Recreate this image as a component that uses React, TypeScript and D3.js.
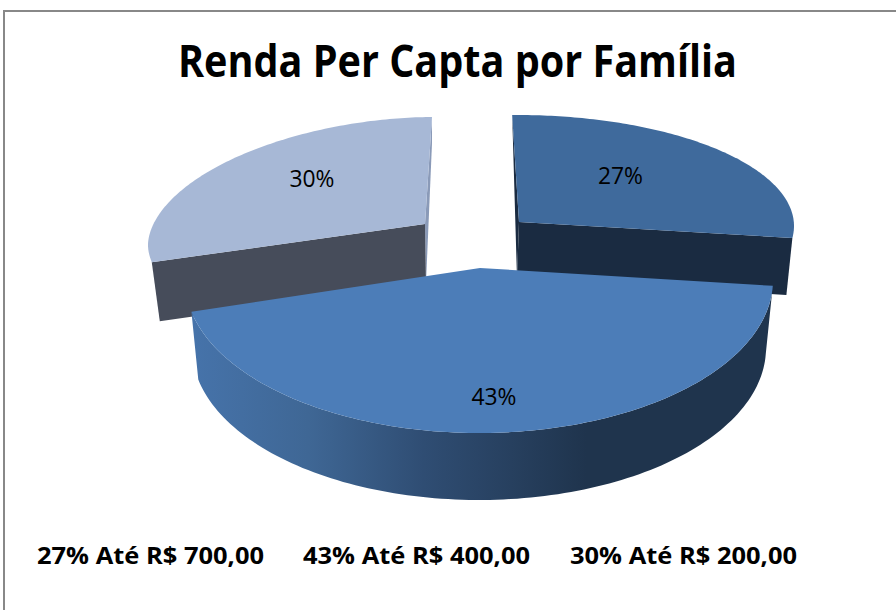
import React from "react";
import * as d3 from "d3";

const categories = ["Até R$ 700,00", "Até R$ 400,00", "Até R$ 200,00"];
const shares = [27, 43, 30];
const titleText = "Renda Per Capta por Família";

const rad = (d: number) => (d * Math.PI) / 180;

type Ell = { cx: number; cy: number; rx: number; ry: number; n: number };
type Pt = [number, number];

const topFaces: Ell[] = [
  { cx: 517, cy: 226, rx: 277, ry: 111, n: 2 },
  { cx: 479, cy: 280, rx: 294, ry: 153, n: 2 },
  { cx: 432, cy: 245, rx: 284, ry: 128, n: 1.85 },
];
const angleNudge: Pt[] = [[0, 0], [-4, 7], [10, 1]];
const apexes: Pt[] = [[519, 222], [480, 268], [425, 224]];
const apexLow: Pt[] = [[517, 278], [480, 330], [426, 283]];
const sliverBend: Pt[] = [[513, 143], [480, 268], [432, 143]];
const rimDrop: Pt[] = [[-6, 57], [-6, 62], [8, 59]];
const topFill = ["#3f6a9c", "#4c7db8", "#a7b8d6"];
const wallFill = ["#1a2b41", "url(#frontWall)", "#464c5a"];
const sliverFill = ["#1a2b41", "none", "#8a9ab8"];
const labelAt: Pt[] = [[620.5, 183.5], [494, 405], [312, 187]];
const legendX = [37, 303, 570];
const frontBottom: Ell = { cx: 479, cy: 348, rx: 287, ry: 152, n: 2 };

const rimPoint = (e: Ell, a: number): Pt => {
  const p = 2 / e.n;
  const s = Math.sin(a);
  const c = Math.cos(a);
  return [
    e.cx + e.rx * Math.sign(s) * Math.pow(Math.abs(s), p),
    e.cy - e.ry * Math.sign(c) * Math.pow(Math.abs(c), p),
  ];
};

const line = d3.line<Pt>();

export default function App() {
  const arcs = d3
    .pie<number>()
    .sort(null)
    .startAngle(rad(-1))
    .endAngle(rad(359))(shares);

  const slices = arcs.map((arc, i) => {
    const a0 = arc.startAngle + rad(angleNudge[i][0]);
    const a1 = arc.endAngle + rad(angleNudge[i][1]);
    const steps = d3.range(0, 121).map((k) => a0 + ((a1 - a0) * k) / 120);
    const rim = steps.map((a) => rimPoint(topFaces[i], a));
    return { a0, a1, steps, rim };
  });

  const topPath = (i: number) =>
    (line([apexes[i], ...slices[i].rim]) ?? "") + "Z";

  const cutWall = (i: number, rimEnd: Pt) => {
    const lowEnd: Pt = [rimEnd[0] + rimDrop[i][0], rimEnd[1] + rimDrop[i][1]];
    return (line([apexes[i], rimEnd, lowEnd, apexLow[i]]) ?? "") + "Z";
  };

  const sliver = (i: number, rimEnd: Pt) =>
    (line([rimEnd, apexes[i], apexLow[i], sliverBend[i]]) ?? "") + "Z";

  const r = slices[0].rim;
  const l = slices[2].rim;

  const frontWall =
    (line([
      ...slices[1].rim,
      ...slices[1].steps
        .slice()
        .reverse()
        .map((a) => rimPoint(frontBottom, a)),
    ]) ?? "") + "Z";

  return (
    <svg
      width={896}
      height={610}
      style={{ position: "absolute", left: 0, top: 0, display: "block", background: "#fff" }}
    >
      <defs>
        <linearGradient id="frontWall" gradientUnits="userSpaceOnUse" x1={192} x2={772} y1={0} y2={0}>
          <stop offset="0" stopColor="#4673aa" />
          <stop offset="0.2" stopColor="#3f6795" />
          <stop offset="0.4" stopColor="#2f4d73" />
          <stop offset="0.55" stopColor="#27405f" />
          <stop offset="0.68" stopColor="#1f344d" />
          <stop offset="1" stopColor="#1f344d" />
        </linearGradient>
      </defs>

      <path d="M4 610V11H896" fill="none" stroke="#888888" strokeWidth={2} />

      <text
        x={178}
        y={77}
        textLength={559}
        lengthAdjust="spacingAndGlyphs"
        fontFamily="'Open Sans', sans-serif"
        fontWeight={700}
        fontSize={44}
        fill="#000"
      >
        {titleText}
      </text>

      {/* back slices */}
      <path d={sliver(0, r[0])} fill={sliverFill[0]} />
      <path d={cutWall(0, r[r.length - 1])} fill={wallFill[0]} />
      <path d={topPath(0)} fill={topFill[0]} />

      <path d={sliver(2, l[l.length - 1])} fill={sliverFill[2]} />
      <path d={cutWall(2, l[0])} fill={wallFill[2]} />
      <path d={topPath(2)} fill={topFill[2]} />

      {/* front slice */}
      <path d={frontWall} fill={wallFill[1]} />
      <path d={topPath(1)} fill={topFill[1]} />

      {shares.map((s, i) => (
        <text
          key={categories[i] + "-pct"}
          x={labelAt[i][0]}
          y={labelAt[i][1]}
          textAnchor="middle"
          textLength={45}
          lengthAdjust="spacingAndGlyphs"
          fontFamily="'Open Sans', sans-serif"
          fontSize={23}
          fill="#000"
        >
          {s}%
        </text>
      ))}

      {shares.map((s, i) => (
        <text
          key={categories[i]}
          x={legendX[i]}
          y={564}
          textLength={227}
          lengthAdjust="spacingAndGlyphs"
          fontFamily="'Open Sans', sans-serif"
          fontWeight={700}
          fontSize={24}
          fill="#000"
        >
          {`${s}% ${categories[i]}`}
        </text>
      ))}
    </svg>
  );
}
